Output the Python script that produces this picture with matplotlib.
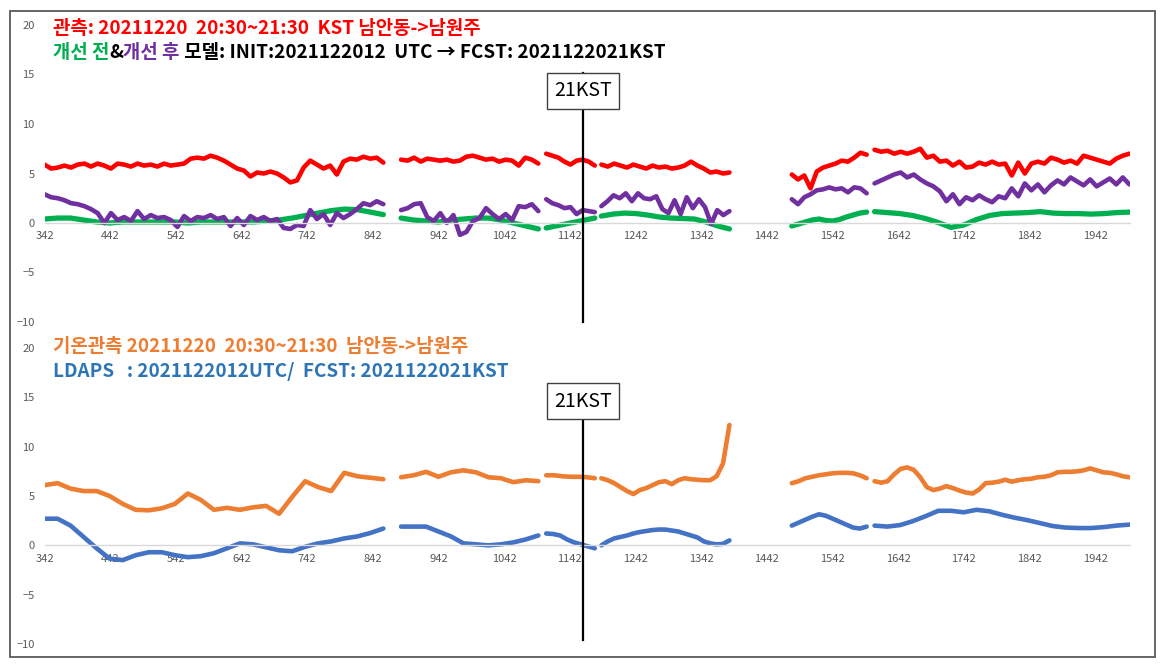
import numpy as np
import matplotlib
matplotlib.use("Agg")
import matplotlib.pyplot as plt
from matplotlib.patches import Rectangle

plt.rcParams['font.family'] = ['Noto Sans CJK KR', 'DejaVu Sans']

# x ranges (time index) of the continuous pieces, shared by every series
seg_ranges = [(342, 858), (885, 1094), (1106, 1180), (1190, 1385), (1480, 1594), (1606, 1994)]
x_ticks = list(range(342, 1943, 100))
y_ticks = [-10, -5, 0, 5, 10, 15, 20]
now_idx = 1162
now_label = "21KST"

# top panel: observation (red), model before (green) / after (purple) improvement
obs_top = [
    [5.9, 5.5, 5.6, 5.8, 5.6, 5.9, 6.0, 5.7, 6.0, 5.8, 5.5, 6.0, 5.9, 5.7, 6.0, 5.8, 5.9, 5.7,
     6.0, 5.8, 5.9, 6.0, 6.5, 6.6, 6.5, 6.8, 6.6, 6.3, 5.9, 5.5, 5.3, 4.7, 5.1, 5.0, 5.2, 5.0,
     4.6, 4.1, 4.3, 5.6, 6.3, 5.9, 5.5, 5.8, 4.9, 6.2, 6.5, 6.4, 6.7, 6.5, 6.6, 6.1],
    [6.4, 6.3, 6.6, 6.2, 6.5, 6.4, 6.3, 6.4, 6.2, 6.3, 6.7, 6.8, 6.6, 6.4, 6.5, 6.2, 6.4, 6.3,
     5.8, 6.6, 6.4, 6.0],
    [7.0, 6.8, 6.6, 6.2, 5.9, 6.3, 6.4, 6.2, 5.8],
    [5.9, 5.7, 6.0, 5.8, 5.6, 5.9, 5.7, 5.5, 5.8, 5.6, 5.7, 5.5, 5.6, 5.8, 6.2, 5.8, 5.5, 5.1,
     5.2, 5.0, 5.1],
    [4.9, 4.4, 4.8, 3.5, 5.2, 5.6, 5.8, 6.0, 6.3, 6.2, 6.6, 7.1, 6.9],
    [7.4, 7.2, 7.3, 7.0, 7.2, 7.0, 7.2, 7.5, 6.6, 6.8, 6.2, 6.3, 5.8, 6.2, 5.6, 5.7, 6.1, 5.9,
     6.2, 5.9, 6.0, 4.8, 6.1, 5.0, 6.0, 6.2, 6.0, 6.6, 6.4, 6.1, 6.3, 6.0, 6.8, 6.6, 6.4, 6.2,
     6.0, 6.5, 6.8, 7.0],
]
after_top = [
    [2.9, 2.6, 2.5, 2.3, 2.0, 1.9, 1.7, 1.4, 1.0, 0.0, 1.0, 0.3, 0.6, 0.2, 1.2, 0.4, 0.8, 0.5,
     0.6, 0.3, -0.4, 0.7, 0.2, 0.6, 0.5, 0.8, 0.4, 0.6, -0.3, 0.5, -0.2, 0.7, 0.3, 0.6, 0.2, 0.4,
     -0.5, -0.6, -0.2, -0.3, 1.3, 0.4, 0.9, -0.2, 1.0, 0.5, 0.9, 1.4, 2.0, 1.8, 2.2, 1.9],
    [1.3, 1.5, 1.9, 2.0, 0.6, 0.2, 1.0, 0.0, 0.8, -1.2, -0.9, 0.2, 0.5, 1.5, 0.9, 0.4, 0.9, 0.3,
     1.7, 1.6, 1.9, 1.2],
    [2.4, 2.0, 1.8, 1.5, 1.6, 0.9, 1.3, 1.2, 1.1],
    [1.7, 2.2, 2.8, 2.5, 3.0, 2.2, 3.0, 2.5, 2.4, 2.7, 1.4, 1.0, 2.3, 0.9, 2.6, 1.5, 2.4, 1.6,
     -0.1, 1.3, 0.8, 1.2],
    [2.4, 1.9, 2.6, 2.9, 3.3, 3.4, 3.6, 3.4, 3.5, 3.1, 3.6, 3.5, 3.0],
    [4.0, 4.3, 4.6, 4.9, 5.1, 4.6, 4.9, 4.4, 4.0, 3.7, 3.2, 2.2, 2.9, 1.9, 2.6, 2.3, 2.8, 2.4,
     2.1, 2.7, 2.5, 3.5, 2.7, 4.0, 3.3, 3.9, 3.1, 3.8, 4.3, 3.9, 4.6, 4.2, 3.8, 4.4, 3.7, 4.1,
     4.5, 3.9, 4.6, 3.9],
]
before_top = [
    [0.4, 0.5, 0.5, 0.3, 0.1, 0.0, 0.1, 0.1, 0.1, 0.1, 0.1, 0.0, 0.1, 0.1, 0.1, 0.1, 0.1, 0.2,
     0.3, 0.5, 0.75, 1.0, 1.25, 1.4, 1.35, 1.1, 0.85],
    [0.5, 0.3, 0.2, 0.1, 0.3, 0.4, 0.5, 0.5, 0.3, 0.0, -0.3, -0.6],
    [-0.5, -0.3, -0.1, 0.1, 0.3, 0.5],
    [0.7, 0.9, 1.0, 0.95, 0.8, 0.6, 0.5, 0.45, 0.4, 0.1, -0.3, -0.6],
    [-0.3, -0.1, 0.1, 0.3, 0.4, 0.25, 0.2, 0.35, 0.6, 0.8, 1.0, 1.1],
    [1.15, 1.05, 0.95, 0.75, 0.45, 0.05, -0.45, -0.2, 0.35, 0.75, 0.95, 1.0, 1.05, 1.15, 1.0,
     0.95, 0.95, 0.9, 0.95, 1.05, 1.1],
]

# bottom panel: temperature observation (orange) and LDAPS (blue)
temp_obs = [
    [6.1, 6.3, 5.75, 5.5, 5.5, 5.0, 4.2, 3.6, 3.55, 3.75, 4.2, 5.25, 4.6, 3.6, 3.8, 3.6, 3.85,
     4.0, 3.2, 4.9, 6.5, 5.9, 5.5, 7.35, 7.0, 6.85, 6.7],
    [6.9, 7.1, 7.45, 6.95, 7.4, 7.6, 7.4, 6.9, 6.8, 6.4, 6.6, 6.5],
    [7.1, 7.1, 7.0, 6.95, 6.95, 6.9, 6.8],
    [6.8, 6.6, 6.3, 5.9, 5.5, 5.2, 5.6, 5.8, 6.1, 6.4, 6.5, 6.2, 6.6, 6.8, 6.7, 6.65, 6.6, 6.6,
     7.0, 8.3, 12.2],
    [6.3, 6.5, 6.8, 6.95, 7.1, 7.2, 7.3, 7.35, 7.35, 7.3, 7.1, 6.8],
    [6.5, 6.35, 6.5, 7.2, 7.75, 7.9, 7.65, 6.9, 5.9, 5.6, 5.75, 6.0, 5.8, 5.55, 5.35, 5.25,
     5.65, 6.3, 6.35, 6.45, 6.65, 6.45, 6.6, 6.7, 6.75, 6.9, 6.95, 7.1, 7.4, 7.45, 7.45, 7.5,
     7.6, 7.8, 7.6, 7.4, 7.35, 7.2, 7.0, 6.9],
]
ldaps = [
    [2.7, 2.7, 2.0, 0.85, -0.3, -1.35, -1.5, -1.0, -0.7, -0.7, -1.0, -1.2, -1.1, -0.8, -0.3,
     0.2, 0.1, -0.2, -0.5, -0.6, -0.15, 0.2, 0.4, 0.7, 0.9, 1.25, 1.7],
    [1.9, 1.9, 1.9, 1.4, 0.9, 0.2, 0.1, 0.0, 0.1, 0.3, 0.6, 1.0],
    [1.2, 1.15, 1.0, 0.6, 0.3, 0.1, -0.1, -0.3],
    [0.0, 0.4, 0.7, 0.85, 1.0, 1.2, 1.35, 1.45, 1.55, 1.6, 1.6, 1.5, 1.4, 1.2, 1.0, 0.8, 0.4,
     0.2, 0.1, 0.15, 0.5],
    [2.0, 2.3, 2.6, 2.9, 3.15, 3.0, 2.7, 2.4, 2.1, 1.8, 1.7, 1.9],
    [2.0, 1.9, 2.05, 2.45, 2.95, 3.5, 3.5, 3.35, 3.6, 3.45, 3.1, 2.8, 2.55, 2.25, 1.95, 1.8,
     1.75, 1.75, 1.85, 2.0, 2.1],
]

RED = '#FF0000'
GREEN = '#00B050'
PURPLE = '#7030A0'
ORANGE = '#ED7D31'
BLUE = '#4472C4'
BLUE_TXT = '#2E75B6'
GRAY = '#595959'


def draw_series(ax, segs, color, lw=3.3):
    for (a, b), vals in zip(seg_ranges, segs):
        xs = np.linspace(a, b, len(vals))
        ax.plot(xs, vals, color=color, lw=lw, solid_capstyle='round',
                solid_joinstyle='round')


def setup_axes(ax):
    ax.set_xlim(342, 1995)
    ax.set_ylim(-10, 20)
    ax.set_xticks(x_ticks)
    ax.set_yticks(y_ticks)
    for side in ['left', 'right', 'top']:
        ax.spines[side].set_visible(False)
    ax.spines['bottom'].set_position(('data', 0))
    ax.spines['bottom'].set_color('#D9D9D9')
    ax.spines['bottom'].set_linewidth(1)
    ax.tick_params(axis='both', length=0, labelsize=8, labelcolor=GRAY)
    ax.tick_params(axis='y', pad=7)
    ax.tick_params(axis='x', pad=6)
    ax.set_facecolor('none')


def colored_line(fig, x, y, parts, **kw):
    renderer = fig.canvas.get_renderer()
    for s, c in parts:
        t = fig.text(x, y, s, color=c, va='center', ha='left', **kw)
        bb = t.get_window_extent(renderer)
        x += bb.width / fig.bbox.width


W, H = 1161, 667
fig = plt.figure(figsize=(W / 100, H / 100), dpi=100)

ax_top = fig.add_axes([44.5 / W, (H - 322) / H, (1130 - 44.5) / W, (322 - 25) / H])
ax_bot = fig.add_axes([44.5 / W, (H - 644) / H, (1130 - 44.5) / W, (644 - 348) / H])

for ax in (ax_top, ax_bot):
    setup_axes(ax)

draw_series(ax_top, before_top, GREEN, lw=3.8)
draw_series(ax_top, obs_top, RED)
draw_series(ax_top, after_top, PURPLE)

draw_series(ax_bot, temp_obs, ORANGE)
draw_series(ax_bot, ldaps, BLUE)

# "now" marker line and label box
box = dict(boxstyle='square,pad=0.38', fc='white', ec='#404040', lw=1)
ax_top.plot([now_idx, now_idx], [-10, 15.2], color='black', lw=1.6, clip_on=False, zorder=5)
ax_top.text(now_idx, 13.35, now_label, ha='center', va='center', fontsize=14,
            bbox=box, zorder=6)
ax_bot.plot([now_idx, now_idx], [-9.6, 15.0], color='black', lw=1.6, clip_on=False, zorder=5)
ax_bot.text(now_idx, 14.6, now_label, ha='center', va='center', fontsize=14,
            bbox=box, zorder=6)

# titles
tx = 53 / W
kw = dict(fontsize=13.6, fontweight='bold')
colored_line(fig, tx, 1 - 28 / H, [("관측: 20211220  20:30~21:30  KST 남안동->남원주", RED)], **kw)
colored_line(fig, tx, 1 - 52 / H, [("개선 전", GREEN), ("&", 'black'), ("개선 후", PURPLE),
                                   (" 모델: INIT:2021122012  UTC → FCST: 2021122021KST", 'black')], **kw)
colored_line(fig, tx, 1 - 347 / H, [("기온관측 20211220  20:30~21:30  남안동->남원주", ORANGE)], **kw)
colored_line(fig, tx, 1 - 371 / H, [("LDAPS   : 2021122012UTC/  FCST: 2021122021KST", BLUE_TXT)], **kw)

# outer frame
fig.patches.append(Rectangle((9.5 / W, 1 - 657 / H), (1155 - 9.5) / W, (657 - 10.5) / H,
                             transform=fig.transFigure, fill=False, ec='#595959', lw=1.3))

fig.savefig('out.png', dpi=100)
